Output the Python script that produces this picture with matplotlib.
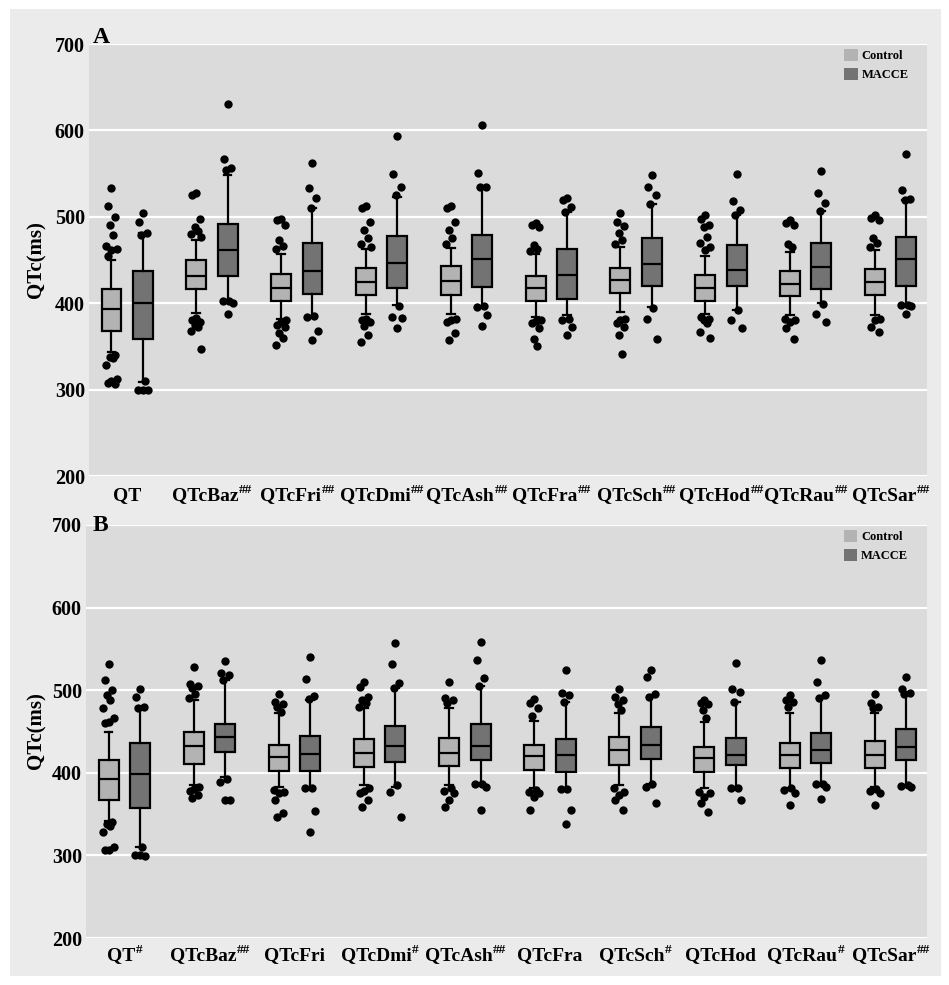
"""QT / corrected QT (QTc) box plots, Control vs MACCE, two stacked panels (A, B)."""

import matplotlib

matplotlib.use("Agg")

import matplotlib.pyplot as plt  # noqa: E402
from matplotlib.patches import Patch, Rectangle  # noqa: E402

plt.rcParams["font.family"] = "serif"
plt.rcParams["font.serif"] = ["Liberation Serif", "DejaVu Serif"]
plt.rcParams["font.weight"] = "bold"

# ---- data (ms) -------------------------------------------------------------
GROUPS = ["QT", "QTcBaz", "QTcFri", "QTcDmi", "QTcAsh",
          "QTcFra", "QTcSch", "QTcHod", "QTcRau", "QTcSar"]
A_SUP = ["", "##", "##", "##", "##", "##", "##", "##", "##", "##"]
B_SUP = ["#", "##", "", "#", "##", "", "#", "", "#", "##"]

# panel A, control
A_CTRL_LO = [344, 389, 382, 388, 388, 384, 390, 388, 386, 386]
A_CTRL_Q1 = [368, 416, 403, 410, 410, 403, 412, 403, 408, 409]
A_CTRL_MED = [393, 432, 418, 425, 426, 418, 427, 418, 422, 424]
A_CTRL_Q3 = [417, 450, 434, 441, 443, 432, 441, 433, 437, 440]
A_CTRL_HI = [450, 473, 457, 463, 464, 457, 465, 455, 459, 461]
A_CTRL_OUT = [
    [533, 513, 500, 490, 479, 466, 463, 461, 455, 340, 338, 336, 328, 312, 310, 308, 306],
    [527, 525, 498, 488, 484, 480, 477, 383, 380, 378, 375, 372, 368, 347],
    [498, 496, 490, 473, 466, 463, 380, 378, 375, 372, 365, 360, 352],
    [512, 510, 494, 485, 476, 469, 465, 382, 380, 378, 374, 363, 355],
    [512, 510, 494, 485, 476, 469, 382, 380, 378, 365, 357],
    [493, 490, 488, 467, 463, 460, 381, 379, 377, 371, 359, 351],
    [504, 494, 489, 481, 473, 468, 382, 380, 377, 372, 363, 341],
    [502, 498, 491, 488, 477, 470, 465, 462, 384, 382, 380, 377, 367, 360],
    [496, 493, 490, 469, 465, 382, 380, 378, 371, 359],
    [502, 499, 496, 476, 470, 465, 382, 380, 372, 367],
]
# panel A, MACCE
A_MACCE_LO = [309, 400, 385, 398, 396, 386, 396, 392, 400, 398]
A_MACCE_Q1 = [358, 431, 411, 418, 419, 405, 420, 420, 417, 420]
A_MACCE_MED = [400, 461, 437, 447, 451, 433, 445, 439, 442, 451]
A_MACCE_Q3 = [437, 492, 470, 478, 479, 463, 476, 467, 470, 477]
A_MACCE_HI = [481, 548, 510, 523, 533, 505, 515, 502, 507, 520]
A_MACCE_OUT = [
    [504, 494, 481, 479, 310, 300, 299, 300],
    [631, 567, 557, 554, 403, 402, 400, 388],
    [562, 533, 522, 510, 385, 384, 368, 357],
    [593, 549, 534, 525, 397, 384, 383, 371],
    [606, 551, 535, 534, 397, 396, 386, 374],
    [522, 520, 511, 505, 382, 381, 372, 363],
    [548, 535, 525, 515, 394, 382, 359],
    [550, 518, 508, 502, 392, 381, 371],
    [553, 527, 516, 507, 399, 388, 378],
    [573, 531, 521, 520, 398, 398, 397, 387],
]
# panel B, control
B_CTRL_LO = [342, 385, 383, 385, 385, 382, 385, 381, 381, 383]
B_CTRL_Q1 = [367, 411, 402, 407, 408, 403, 410, 401, 406, 406]
B_CTRL_MED = [392, 432, 419, 424, 424, 420, 427, 418, 421, 421]
B_CTRL_Q3 = [416, 449, 434, 441, 442, 434, 443, 431, 436, 439]
B_CTRL_HI = [449, 488, 472, 478, 478, 463, 473, 461, 472, 472]
B_CTRL_OUT = [
    [532, 512, 500, 494, 488, 478, 466, 462, 460, 340, 338, 336, 328, 310, 307, 306],
    [528, 508, 505, 503, 495, 490, 383, 380, 378, 373, 370],
    [496, 486, 483, 480, 474, 379, 377, 375, 367, 351, 347],
    [510, 504, 492, 488, 485, 480, 381, 378, 376, 367, 359],
    [510, 490, 488, 484, 381, 378, 376, 367, 359],
    [489, 485, 479, 469, 379, 377, 375, 371, 355],
    [502, 492, 488, 483, 476, 381, 377, 373, 367, 355],
    [488, 485, 483, 476, 466, 377, 375, 371, 363, 353],
    [494, 488, 486, 480, 381, 379, 376, 361],
    [496, 484, 480, 478, 380, 378, 376, 361],
]
# panel B, MACCE
B_MACCE_LO = [310, 395, 382, 383, 387, 381, 387, 382, 387, 385]
B_MACCE_Q1 = [357, 425, 402, 413, 416, 401, 417, 409, 412, 416]
B_MACCE_MED = [399, 443, 423, 433, 433, 422, 434, 422, 428, 431]
B_MACCE_Q3 = [436, 459, 445, 457, 459, 441, 455, 442, 448, 453]
B_MACCE_HI = [480, 512, 488, 503, 505, 486, 492, 486, 490, 496]
B_MACCE_OUT = [
    [502, 492, 480, 479, 310, 300, 299, 300],
    [535, 521, 518, 512, 393, 389, 367, 367],
    [540, 513, 493, 489, 382, 381, 354, 328],
    [557, 532, 509, 503, 385, 377, 346],
    [558, 536, 515, 505, 387, 386, 383, 355],
    [524, 497, 494, 486, 380, 380, 355, 338],
    [524, 516, 495, 492, 387, 383, 363],
    [533, 502, 498, 486, 382, 382, 367],
    [536, 510, 494, 490, 387, 386, 383, 368],
    [516, 502, 497, 496, 385, 384, 383],
]

# ---- style ------------------------------------------------------------------
W, H = 949, 985
CTRL_FILL, MACCE_FILL = "#b3b3b3", "#737373"
PANEL_BG, OUTER_BG = "#dbdbdb", "#ebebeb"
DODGE, BOX_W = 0.185, 0.235
JITTER = (0.0, -0.045, 0.045, -0.02, 0.02, -0.06, 0.06)
SUP_W = 4.5  # approx. width (pt) of one superscript '#'


def _stats(lo, q1, med, q3, hi):
    return [dict(whislo=a, q1=b, med=c, q3=d, whishi=e, fliers=[])
            for a, b, c, d, e in zip(lo, q1, med, q3, hi)]


def _draw_series(ax, stats, outliers, xs, fill):
    line = dict(color="black", lw=1.6)
    ax.bxp(stats, positions=xs, widths=BOX_W, capwidths=0.09, patch_artist=True,
           showfliers=False,
           boxprops=dict(facecolor=fill, edgecolor="black", lw=1.6),
           medianprops=line, whiskerprops=line, capprops=line, zorder=3)
    for x, pts in zip(xs, outliers):
        jx = [x + JITTER[i % len(JITTER)] for i in range(len(pts))]
        ax.scatter(jx, pts, s=36, color="black", zorder=5, linewidths=0)


def _tick_label(ax, x, name, sup, drop):
    # name + small raised '#'s; the pair is centred on the group
    shift = -SUP_W * len(sup) / 2
    name_txt = ax.annotate(name, xy=(x, 0), xycoords=("data", "axes fraction"),
                           xytext=(shift, -drop * 0.72), textcoords="offset points",
                           ha="center", va="baseline", fontsize=14, fontweight="bold")
    if sup:
        ax.annotate(sup, xy=(1.0, 1.0), xycoords=name_txt, xytext=(0.2, 2.5),
                    textcoords="offset points", ha="left", va="top",
                    fontsize=9.5, fontweight="bold")


def _draw_panel(ax, ctrl, macce, sups, label_drop):
    n = len(GROUPS)
    centers = list(range(1, n + 1))
    _draw_series(ax, _stats(*ctrl[:5]), ctrl[5], [c - DODGE for c in centers], CTRL_FILL)
    _draw_series(ax, _stats(*macce[:5]), macce[5], [c + DODGE for c in centers], MACCE_FILL)

    ax.set_facecolor(PANEL_BG)
    ax.set_xlim(0.55, 10.43)
    ax.set_ylim(200, 700)
    ax.set_yticks(range(200, 701, 100))
    ax.grid(True, axis="y", color="white", lw=1.6, zorder=0)
    ax.set_axisbelow(True)
    for sp in ax.spines.values():
        sp.set_visible(False)
    ax.tick_params(axis="y", length=0, pad=3, labelsize=14.5)
    ax.set_xticks([])
    for c, name, sup in zip(centers, GROUPS, sups):
        _tick_label(ax, c, name, sup, label_drop)
    handles = [Patch(facecolor=CTRL_FILL, label="Control"),
               Patch(facecolor=MACCE_FILL, label="MACCE")]
    ax.legend(handles=handles, loc="upper left", bbox_to_anchor=(0.901, 0.988),
              frameon=False, fontsize=9, handlelength=1.1, handleheight=1.1,
              handletextpad=0.3, labelspacing=0.45, borderpad=0, borderaxespad=0)


fig = plt.figure(figsize=(W / 100, H / 100), dpi=100, facecolor="white")
fig.patches.append(Rectangle((10 / W, 1 - 976 / H), 931 / W, 967 / H,
                             transform=fig.transFigure, facecolor=OUTER_BG,
                             edgecolor="none", zorder=-5))

ax_a = fig.add_axes([89 / W, 1 - 476 / H, 838 / W, 432 / H])
_draw_panel(ax_a, (A_CTRL_LO, A_CTRL_Q1, A_CTRL_MED, A_CTRL_Q3, A_CTRL_HI, A_CTRL_OUT),
            (A_MACCE_LO, A_MACCE_Q1, A_MACCE_MED, A_MACCE_Q3, A_MACCE_HI, A_MACCE_OUT),
            A_SUP, 24)

ax_b = fig.add_axes([86 / W, 1 - 938 / H, 841 / W, 413 / H])
_draw_panel(ax_b, (B_CTRL_LO, B_CTRL_Q1, B_CTRL_MED, B_CTRL_Q3, B_CTRL_HI, B_CTRL_OUT),
            (B_MACCE_LO, B_MACCE_Q1, B_MACCE_MED, B_MACCE_Q3, B_MACCE_HI, B_MACCE_OUT),
            B_SUP, 22)

# panel tags and y titles
fig.text(93 / W, 1 - 43 / H, "A", fontsize=17, fontweight="bold", va="baseline")
fig.text(93 / W, 1 - 531 / H, "B", fontsize=17, fontweight="bold", va="baseline")
fig.text(36 / W, 1 - 260 / H, "QTc(ms)", rotation=90, ha="center", va="center",
         fontsize=15, fontweight="bold")
fig.text(36 / W, 1 - 731 / H, "QTc(ms)", rotation=90, ha="center", va="center",
         fontsize=15, fontweight="bold")

fig.savefig("out.png", dpi=100)
